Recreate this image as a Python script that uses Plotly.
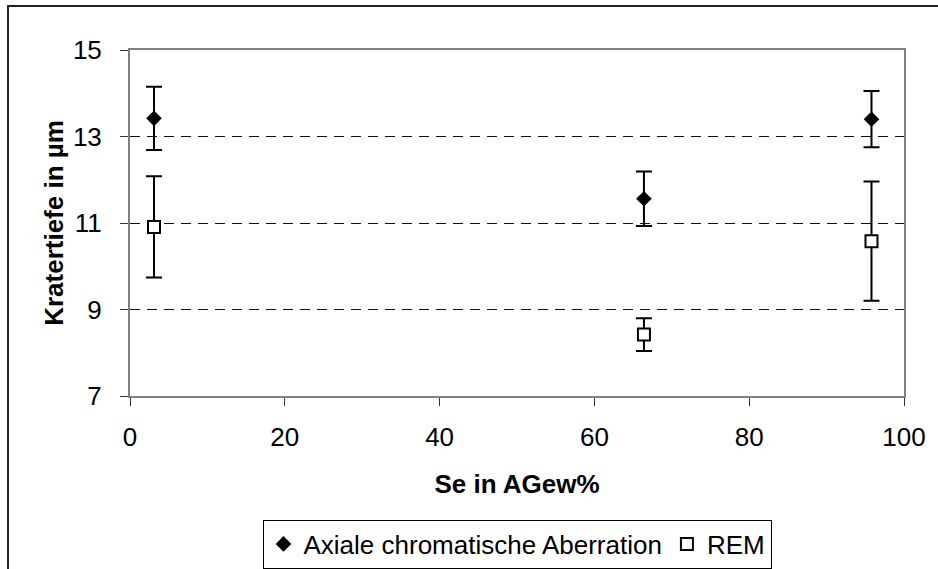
import plotly.graph_objects as go

# Data
se_pct = [3.1, 66.4, 95.8]
axial_depth = [13.42, 11.56, 13.40]
axial_err = [0.73, 0.63, 0.65]
rem_depth = [10.91, 8.42, 10.58]
rem_err = [1.17, 0.38, 1.38]
y_ticks = [7, 9, 11, 13, 15]
x_ticks = [0, 20, 40, 60, 80, 100]

FONT = "Liberation Sans, Arial, sans-serif"
FS = 26

fig = go.Figure()
fig.add_trace(go.Scatter(
    x=se_pct, y=axial_depth, mode="markers",
    name="Axiale chromatische Aberration",
    marker=dict(symbol="diamond", size=12, color="black", line=dict(width=0)),
    error_y=dict(type="data", array=axial_err, visible=True, color="black", thickness=2, width=8),
))
fig.add_trace(go.Scatter(
    x=se_pct, y=rem_depth, mode="markers",
    name="REM",
    marker=dict(symbol="square", size=12, color="white", line=dict(width=2, color="black")),
    error_y=dict(type="data", array=rem_err, visible=True, color="black", thickness=2, width=8),
))

fig.update_layout(
    width=938, height=569,
    margin=dict(l=130, r=34, t=50, b=173, autoexpand=False),
    paper_bgcolor="white", plot_bgcolor="white",
    font=dict(family=FONT, size=FS, color="black"),
    showlegend=True,
    legend=dict(
        orientation="h", x=0.5, xanchor="center", y=-0.357, yanchor="top",
        bordercolor="black", borderwidth=1, bgcolor="white",
        font=dict(family=FONT, size=FS, color="black"),
        itemwidth=30, tracegroupgap=0,
    ),
    shapes=[dict(
        type="rect", xref="paper", yref="paper",
        x0=-0.1576, x1=1.2, y0=-0.7, y1=1.1272,
        line=dict(color="#222222", width=2), fillcolor="rgba(0,0,0,0)", layer="below",
    )],
)

fig.update_xaxes(
    range=[0, 100], tickvals=x_ticks, showgrid=False, zeroline=False, automargin=False,
    showline=True, linecolor="#808080", linewidth=2, mirror=True,
    ticks="outside", ticklen=8, tickwidth=1, tickcolor="#333333",
    ticklabelstandoff=9,
    title=dict(text="<b>Se in AGew%</b>", standoff=24, font=dict(family=FONT, size=FS)),
)
fig.update_yaxes(
    range=[7, 15], tickvals=y_ticks, showgrid=True, gridcolor="#111111", gridwidth=1,
    griddash="10px,7px", zeroline=False, automargin=False,
    showline=True, linecolor="#808080", linewidth=2, mirror=True,
    ticks="outside", ticklen=8, tickwidth=1, tickcolor="#333333",
    ticklabelstandoff=13,
    title=dict(text="<b>Kratertiefe in µm</b>", standoff=2, font=dict(family=FONT, size=FS)),
)

fig.write_html("out.html")
